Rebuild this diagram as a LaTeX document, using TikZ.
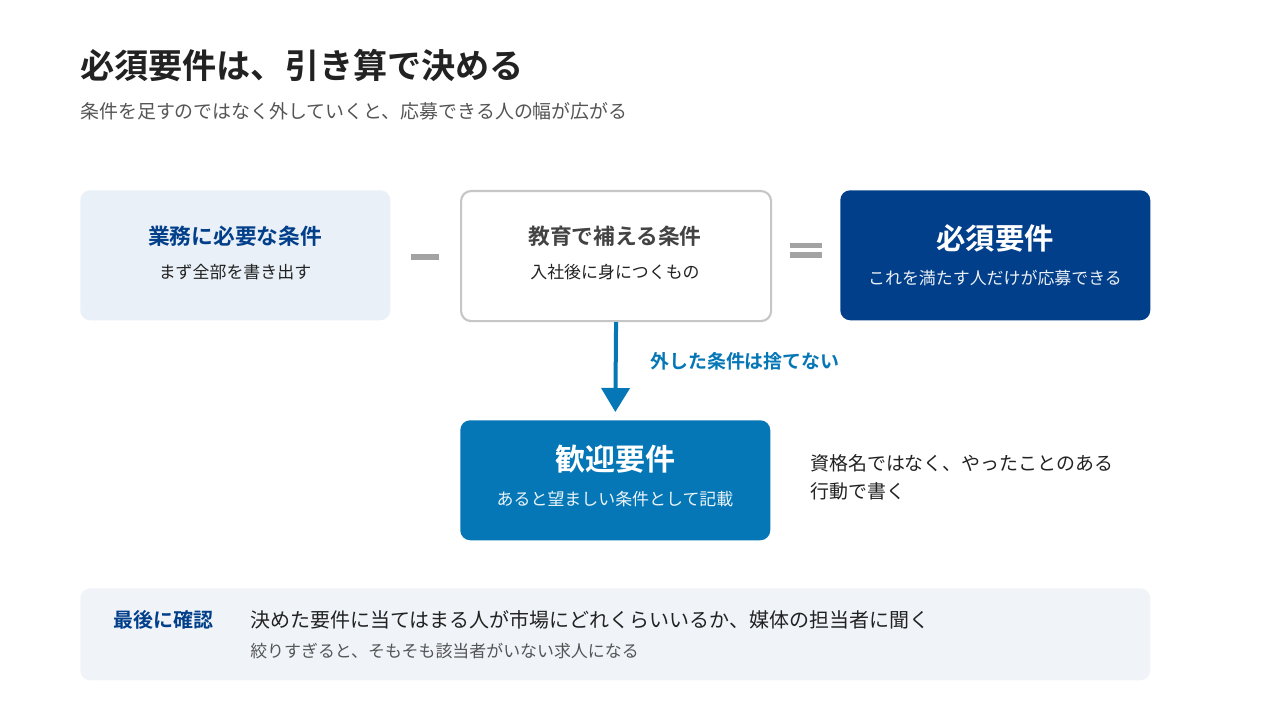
\documentclass[tikz,border=0pt]{standalone}
\usepackage{fontspec}
\setmainfont{Noto Sans CJK JP}[BoldFont={Noto Sans CJK JP Bold}]
\usepackage{xcolor}
\usetikzlibrary{arrows.meta}
\definecolor{navy}{HTML}{023F8A}
\definecolor{sky}{HTML}{0577B6}
\definecolor{paleblue}{HTML}{E9F0F7}
\definecolor{palegrey}{HTML}{F0F4F9}
\definecolor{ink}{HTML}{222222}
\definecolor{softink}{HTML}{555555}
\definecolor{opgrey}{HTML}{A3A3A3}
\definecolor{rim}{HTML}{C6C6C6}

\tikzset{
  card/.style={rectangle, rounded corners=7.5pt, anchor=north west, inner sep=0pt,
    minimum width=232.5pt, minimum height=97.5pt},
  head/.style={font=\bfseries\fontsize{16.3pt}{18pt}\selectfont},
  bighead/.style={font=\bfseries\fontsize{22pt}{24pt}\selectfont, text=white},
  note/.style={font=\fontsize{12.7pt}{15pt}\selectfont},
  oper/.style={fill=opgrey, minimum width=21pt, minimum height=4.3pt, inner sep=0pt}
}

\begin{document}
\begin{tikzpicture}[x=0.75pt, y=-0.75pt]
	\useasboundingbox (0,0) rectangle (1280,720);
	\fill[white] (0,0) rectangle (1280,720);
	% heading
	\node[anchor=west, inner sep=0pt, text=ink, font=\bfseries\fontsize{25.6pt}{28pt}\selectfont] (title) at (80,65) {必須要件は、引き算で決める};
	\node[anchor=west, inner sep=0pt, text=softink, font=\fontsize{14.2pt}{16pt}\selectfont] (subtitle) at (80,111) {条件を足すのではなく外していくと、応募できる人の幅が広がる};
	
	% the three cards
	\node[card, fill=paleblue] (needed) at (80,190) {};
	\node[head, text=navy] (neededtitle) at (235,236) {業務に必要な条件};
	\node[note, text=ink] (neededsub) at (235,272) {まず全部を書き出す};
	
	\node[oper] (minus) at (425,257) {};
	
	\node[card, fill=white, draw=rim, line width=1.6pt] (taught) at (460,190) {};
	\node[head, text=ink!85] (taughttitle) at (615,236) {教育で補える条件};
	\node[note, text=ink] (taughtsub) at (615,272) {入社後に身につくもの};
	
	\node[oper, minimum width=23.5pt] (eqtop) at (806,245.5) {};
	\node[oper, minimum width=23.5pt] (eqbot) at (806,255) {};
	
	\node[card, fill=navy] (must) at (840,190) {};
	\node[bighead] (musttitle) at (995,238) {必須要件};
	\node[note, text=white!92!navy] (mustsub) at (995,278) {これを満たす人だけが応募できる};
	
	% the dropped conditions
	\node[card, fill=sky, minimum height=90pt] (welcome) at (460,420) {};
	\node[bighead, font=\bfseries\fontsize{22.5pt}{24pt}\selectfont] (welcometitle) at (615,459) {歓迎要件};
	\node[note, text=white!92!sky] (welcomesub) at (615,499) {あると望ましい条件として記載};
	
	\draw[sky, line width=3pt, -{Triangle[width=21pt, length=18pt]}, shorten >=6pt] (taught.south) -- (welcome.north);
	\node[anchor=west, inner sep=0pt, text=sky, font=\bfseries\fontsize{14.2pt}{16pt}\selectfont] (keep) at (650,361) {外した条件は捨てない};
	
	\node[anchor=west, inner sep=0pt, text=ink, font=\fontsize{14.2pt}{16pt}\selectfont] (hint1) at (810,463) {資格名ではなく、やったことのある};
	\node[anchor=west, inner sep=0pt, text=ink, font=\fontsize{14.2pt}{16pt}\selectfont] (hint2) at (810,491) {行動で書く};
	
	% final check
	\node[card, fill=palegrey, minimum width=802.5pt, minimum height=69pt] (check) at (80,588) {};
	\node[anchor=west, inner sep=0pt, text=navy, font=\bfseries\fontsize{15pt}{17pt}\selectfont] (checklabel) at (113,620) {最後に確認};
	\node[anchor=west, inner sep=0pt, text=ink, font=\fontsize{15pt}{17pt}\selectfont] (checkmain) at (250,620) {決めた要件に当てはまる人が市場にどれくらいいるか、媒体の担当者に聞く};
	\node[anchor=west, inner sep=0pt, text=softink, font=\fontsize{12.7pt}{15pt}\selectfont] (checksub) at (250,651) {絞りすぎると、そもそも該当者がいない求人になる};
	
\end{tikzpicture}
\end{document}
